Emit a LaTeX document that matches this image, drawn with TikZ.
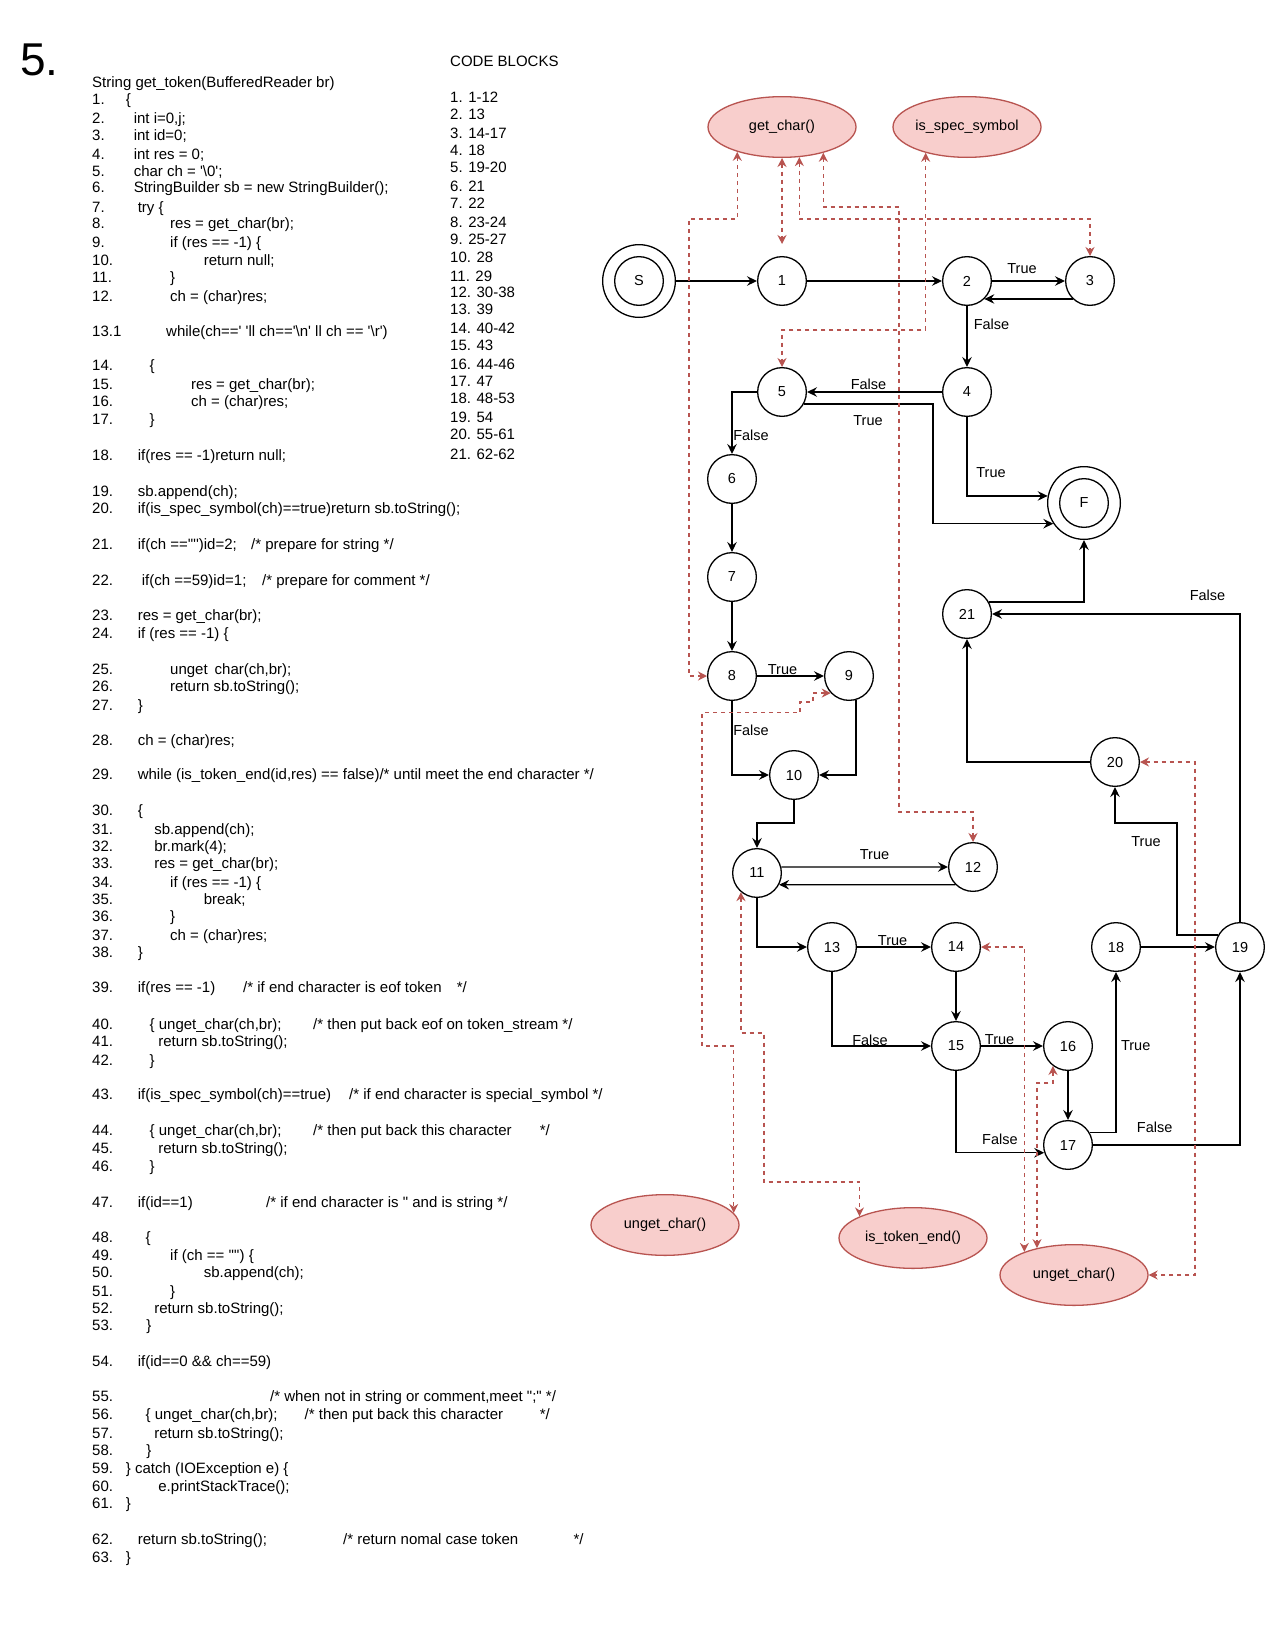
\documentclass[tikz,border=0pt]{standalone}
\usetikzlibrary{arrows.meta,shapes.geometric}
\font\codef="Liberation Sans" at 15pt
\font\diagf="Liberation Sans" at 14.5pt
\font\bigf="Liberation Sans" at 46pt
\definecolor{redc}{HTML}{B85450}
\definecolor{pinkf}{HTML}{F8CECC}
\newcommand\codeln[5]{\node[code] (#1) at (92,#2) {\makebox[#3pt][l]{#4}#5};}
\newcommand\codecm[4]{\node[code] (#1) at (#2,#3) {#4};}
\begin{document}
\begin{tikzpicture}[x=1pt,y=-1pt,
  code/.style={anchor=base west, inner sep=0pt, font=\codef},
  state/.style={circle, draw, line width=1.3pt, minimum size=48.7pt, inner sep=0pt, font=\diagf},
  ring/.style={circle, draw, line width=1.3pt, minimum size=72.7pt, inner sep=0pt},
  func/.style={ellipse, draw=redc, fill=pinkf, line width=1.3pt, minimum width=148pt, minimum height=60.7pt, inner sep=0pt, font=\diagf},
  lbl/.style={inner sep=0pt, font=\diagf},
  flow/.style={draw, line width=1.3pt, -{Stealth[length=10pt,width=9.5pt,inset=3.5pt]}},
  dep/.style={draw=redc, line width=1.3pt, dash pattern=on 4pt off 4pt, {Stealth[length=9pt,width=9pt,inset=3pt]}-{Stealth[length=9pt,width=9pt,inset=3pt]}}
]
\fill[white] (0,0) rectangle (1284,1646);
\useasboundingbox (0,0) rectangle (1284,1646);

% ---------- left: code ----------
\node[anchor=base west, inner sep=0pt, font=\bigf] (title) at (20,75.5) {5.};
\node[code] (hdr) at (92,87.5) {String get\_token(BufferedReader br)};
\codeln{L1}{104}{33.7}{1.}{\{}
\codeln{L2}{123}{41.6}{2.}{int i=0,j;}
\codeln{L3}{140}{41.6}{3.}{int id=0;}
\codeln{L4}{159}{41.6}{4.}{int res = 0;}
\codeln{L5}{176}{41.6}{5.}{char ch = '\textbackslash 0';}
\codeln{L6}{192.5}{41.6}{6.}{StringBuilder sb = new StringBuilder();}
\codeln{L7}{212}{45.6}{7.}{try \{}
\codeln{L8}{228.5}{78}{8.}{res = get\_char(br);}
\codeln{L9}{247.5}{78}{9.}{if (res == -1) \{}
\codeln{L10}{265}{111.6}{10.}{return null;}
\codeln{L11}{282}{78}{11.}{\}}
\codeln{L12}{301}{78}{12.}{ch = (char)res;}
\codeln{L13}{336}{74}{13.1}{while(ch==' 'll ch=='\textbackslash n' ll ch == '\textbackslash r')}
\codeln{L14}{370}{57.5}{14.}{\{}
\codeln{L15}{389}{99}{15.}{res = get\_char(br);}
\codeln{L16}{406}{99}{16.}{ch = (char)res;}
\codeln{L17}{424}{57.5}{17.}{\}}
\codeln{L18}{460}{45.6}{18.}{if(res == -1)return null;}
\codeln{L19}{496}{45.6}{19.}{sb.append(ch);}
\codeln{L20}{513}{45.6}{20.}{if(is\_spec\_symbol(ch)==true)return sb.toString();}
\codeln{L21}{549}{45.6}{21.}{if(ch =='"')id=2;}
\codecm{C21}{251}{549}{/* prepare for string */}
\codeln{L22}{585}{49.6}{22.}{if(ch ==59)id=1;}
\codecm{C22}{262}{585}{/* prepare for comment */}
\codeln{L23}{620}{45.6}{23.}{res = get\_char(br);}
\codeln{L24}{638.5}{45.6}{24.}{if (res == -1) \{}
\codeln{L25}{674}{78}{25.}{unget\hspace*{7pt}char(ch,br);}
\codeln{L26}{691}{78}{26.}{return sb.toString();}
\codeln{L27}{710}{45.6}{27.}{\}}
\codeln{L28}{745}{45.6}{28.}{ch = (char)res;}
\codeln{L29}{779}{45.6}{29.}{while (is\_token\_end(id,res) == false)/* until meet the end character */}
\codeln{L30}{815}{45.6}{30.}{\{}
\codeln{L31}{834}{62.2}{31.}{sb.append(ch);}
\codeln{L32}{851}{62.2}{32.}{br.mark(4);}
\codeln{L33}{868}{62.2}{33.}{res = get\_char(br);}
\codeln{L34}{887.5}{78}{34.}{if (res == -1) \{}
\codeln{L35}{904}{111.6}{35.}{break;}
\codeln{L36}{921.5}{78}{36.}{\}}
\codeln{L37}{940}{78}{37.}{ch = (char)res;}
\codeln{L38}{957.5}{45.6}{38.}{\}}
\codeln{L39}{992.5}{45.6}{39.}{if(res == -1)}
\codecm{C39}{243}{992.5}{/* if end character is eof token}
\codecm{D39}{456.7}{992.5}{*/}
\codeln{L40}{1029}{57.5}{40.}{\{ unget\_char(ch,br);}
\codecm{C40}{313}{1029}{/* then put back eof on token\_stream */}
\codeln{L41}{1046.5}{66.2}{41.}{return sb.toString();}
\codeln{L42}{1065}{57.5}{42.}{\}}
\codeln{L43}{1099}{45.6}{43.}{if(is\_spec\_symbol(ch)==true)}
\codecm{C43}{349}{1099}{/* if end character is special\_symbol */}
\codeln{L44}{1135}{57.5}{44.}{\{ unget\_char(ch,br);}
\codecm{C44}{313}{1135}{/* then put back this character}
\codecm{D44}{539.7}{1135}{*/}
\codeln{L45}{1153.5}{66.2}{45.}{return sb.toString();}
\codeln{L46}{1171}{57.5}{46.}{\}}
\codeln{L47}{1207}{45.6}{47.}{if(id==1)}
\codecm{C47}{266}{1207}{/* if end character is " and is string */}
\codeln{L48}{1242}{53.5}{48.}{\{}
\codeln{L49}{1260}{78}{49.}{if (ch == '"') \{}
\codeln{L50}{1277.5}{111.6}{50.}{sb.append(ch);}
\codeln{L51}{1296}{78}{51.}{\}}
\codeln{L52}{1313.5}{62.2}{52.}{return sb.toString();}
\codeln{L53}{1330}{54.3}{53.}{\}}
\codeln{L54}{1366}{45.6}{54.}{if(id==0 \&\& ch==59)}
\codeln{L55}{1401.5}{45.6}{55.}{}
\codecm{C55}{270}{1401.5}{/* when not in string or comment,meet ";" */}
\codeln{L56}{1419}{53.5}{56.}{\{ unget\_char(ch,br);}
\codecm{C56}{304.5}{1419}{/* then put back this character}
\codecm{D56}{539.7}{1419}{*/}
\codeln{L57}{1438.5}{62.2}{57.}{return sb.toString();}
\codeln{L58}{1455}{54.3}{58.}{\}}
\codeln{L59}{1473}{33.7}{59.}{\} catch (IOException e) \{}
\codeln{L60}{1491.5}{66.2}{60.}{e.printStackTrace();}
\codeln{L61}{1508.5}{33.7}{61.}{\}}
\codeln{L62}{1544}{45.6}{62.}{return sb.toString();}
\codecm{C62}{343}{1544}{/* return nomal case token}
\codecm{D62}{573.4}{1544}{*/}
\codeln{L63}{1562}{33.7}{63.}{\}}

% ---------- code blocks ----------
\node[code] (cbh) at (450,66.5) {CODE BLOCKS};
\foreach \t/\y [count=\i] in {1. 1-12/102.5, 2. 13/119, 3. 14-17/138.5, 4. 18/155, 5. 19-20/172.5, 6. 21/191, 7. 22/208, 8. 23-24/227.5, 9. 25-27/244, 10. 28/262, 11. 29/281, 12. 30-38/297.5, 13. 39/314, 14. 40-42/333, 15. 43/350, 16. 44-46/369, 17. 47/386.5, 18. 48-53/403.5, 19. 54/422.5, 20. 55-61/439, 21. 62-62/459}
  \node[code] (cb\i) at (450,\y) {\t};

% ---------- graph nodes ----------
\node[ring] (S) at (639,281) {};
\node[state] (Sin) at (639,281) {S};
\node[ring] (F) at (1084,503) {};
\node[state] (Fin) at (1084,503) {F};
\node[state] (n1) at (782,281) {1};
\node[state] (n2) at (967,281) {2};
\node[state] (n3) at (1090,281) {3};
\node[state] (n4) at (967,392) {4};
\node[state] (n5) at (782,392) {5};
\node[state] (n6) at (732,479) {6};
\node[state] (n7) at (732,577) {7};
\node[state] (n8) at (732,676) {8};
\node[state] (n9) at (849,676) {9};
\node[state] (n10) at (794,775) {10};
\node[state] (n11) at (757,873) {11};
\node[state] (n12) at (973,867) {12};
\node[state] (n13) at (832,947) {13};
\node[state] (n14) at (956,947) {14};
\node[state] (n15) at (956,1046) {15};
\node[state] (n16) at (1068,1046) {16};
\node[state] (n17) at (1068,1145) {17};
\node[state] (n18) at (1116,947) {18};
\node[state] (n19) at (1240,947) {19};
\node[state] (n20) at (1115,762) {20};
\node[state] (n21) at (967,614) {21};

\node[func] (getc) at (782,127) {get\_char()};
\node[func] (spec) at (967,127) {is\_spec\_symbol};
\node[func] (ug1) at (665,1225) {unget\_char()};
\node[func] (ite) at (913,1238) {is\_token\_end()};
\node[func] (ug2) at (1074,1275) {unget\_char()};

% ---------- control flow ----------
\draw[flow] (S) -- (n1);
\draw[flow] (n1) -- (n2);
\draw[flow] (n2) -- (n3) node[lbl] (l23) at (1022,269) {True};
\draw[flow] (n3.226) -- (n2.-46);
\draw[flow] (n2) -- (n4) node[lbl] (l24) at (991.5,324) {False};
\draw[flow] (n4) -- (n5) node[lbl] (l45) at (868.5,384) {False};
\draw[flow] (n5.-29) -| (933,450) |- (F.214) node[lbl] (l5F) at (868,421) {True};
\draw[flow] (n4.south) |- (F.169) node[lbl] (l4F) at (991,472.3) {True};
\draw[flow] (n5.west) -| (n6.north) node[lbl] (l56) at (751,435) {False};
\draw[flow] (n6) -- (n7);
\draw[flow] (n7) -- (n8);
\draw[flow] (n8) -- (n9) node[lbl] (l89) at (782.5,670) {True};
\draw[flow] (n8.south) |- (n10.west) node[lbl] (l810) at (751,730.7) {False};
\draw[flow] (n9.-74) |- (n10.east);
\draw[flow] (n10.south) |- (n11.north |- 0,823) -- (n11.north);
\draw[flow] (n11.14) -- (n12.west) node[lbl] (l1112) at (874.5,855) {True};
\draw[flow] (n12.225) -- (n11.-28);
\draw[flow] (n11.south) |- (n13.west);
\draw[flow] (n13) -- (n14) node[lbl] (l1314) at (892.6,941) {True};
\draw[flow] (n14) -- (n15);
\draw[flow] (n13.south) |- (n15.west) node[lbl] (l1315) at (870,1040) {False};
\draw[flow] (n15) -- (n16) node[lbl] (l1516) at (999.6,1040) {True};
\draw[flow] (n16) -- (n17);
\draw[flow] (n15.south) |- (n17.198) node[lbl] (l1517) at (999.9,1139) {False};
\draw[flow] (n17.30) -| (n18.south) node[lbl] (l1718) at (1135.7,1046) {True};
\draw[flow] (n17.east) -| (n19.south) node[lbl] (l1719) at (1154.7,1127.3) {False};
\draw[flow] (n18) -- (n19);
\draw[flow] (n19.151) -| (1177,823) -| (n20.south) node[lbl] (l1920) at (1146,841.7) {True};
\draw[flow] (n19.north) |- (n21.east) node[lbl] (l1921) at (1207.5,595.7) {False};
\draw[flow] (n20.west) -| (n21.south);
\draw[flow] (n21.29) -| (F.south);

% ---------- function calls ----------
\draw[dep] (getc.209) |- (689,219) |- (n8.west);
\draw[dep, shorten >=12pt] (getc.south) -- (n1.north);
\draw[dep] (getc.-60) |- (n3.north |- 0,219) -- (n3.north);
\draw[dep] (getc.-32) |- (899,207) |- (n12.north |- 0,812) -- (n12.north);
\draw[dep] (spec.212) |- (n5.north |- 0,330) -- (n5.north);
\draw[dep] (n9.223) -| (813,702) -| (800,712.5) -| (702,1046) -| (ug1.10);
\draw[dep] (n11.230) |- (764,1033) |- (ite.158 |- 0,1182) -- (ite.158);
\draw[dep] (n14.east) -| (ug2.155);
\draw[dep] (n16.233) |- (ug2.144 |- 0,1083) -- (ug2.144);
\draw[dep] (n20.east) -| (ug2.east -| 1195,0) -- (ug2.east);
\end{tikzpicture}
\end{document}
